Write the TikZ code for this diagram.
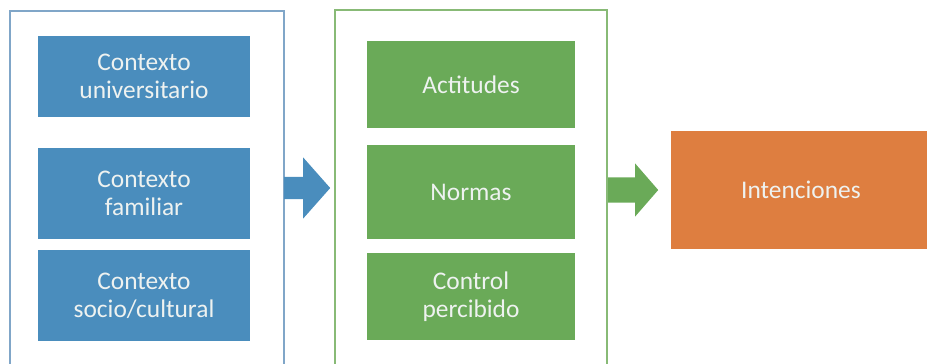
\documentclass[tikz,border=0pt]{standalone}
\usepackage{fontspec}
\setmainfont{Carlito}
\usetikzlibrary{shapes.arrows}
\definecolor{cblue}{RGB}{74,141,189}
\definecolor{cgreen}{RGB}{106,170,88}
\definecolor{corange}{RGB}{222,126,64}
\definecolor{bblue}{RGB}{128,166,200}
\definecolor{bgreen}{RGB}{136,186,118}
\definecolor{ctext}{RGB}{238,242,240}
\tikzset{
  inner/.style={rectangle, inner sep=0pt, text=ctext, align=center,
    font=\fontsize{25.5}{28}\selectfont},
  bluebox/.style={inner, fill=cblue, minimum width=212bp},
  greenbox/.style={inner, fill=cgreen, minimum width=208bp},
  outerbox/.style={rectangle, inner sep=0pt, line width=1.4bp, fill=white},
  blockarrow/.style={single arrow, inner xsep=0pt, anchor=west, font=\fontsize{1}{1}\selectfont}
}
\begin{document}
\begin{tikzpicture}[x=1bp,y=-1bp]
\useasboundingbox (0,0) rectangle (927,363);
\clip (0,0) rectangle (927,363);
% outer containers
\node[outerbox, draw=bblue, minimum width=274bp, minimum height=380bp] (left) at (147,201) {};
\node[outerbox, draw=bgreen, minimum width=272bp, minimum height=380bp] (mid) at (471,200) {};
% blue boxes
\node[bluebox, minimum height=81bp, text depth=-12bp] (uni) at (144,76.5) {Contexto\\universitario};
\node[bluebox, minimum height=91bp] (fam) at (144,193.5) {Contexto\\familiar};
\node[bluebox, minimum height=91bp] (soc) at (144,295.5) {Contexto\\socio/cultural};
% green boxes
\node[greenbox, minimum height=87bp] (act) at (471,84.5) {Actitudes};
\node[greenbox, minimum height=94bp] (nor) at (471,192) {Normas};
\node[greenbox, minimum height=87bp] (con) at (471,296.5) {Control\\percibido};
% orange box
\node[inner, fill=corange, minimum width=262bp, minimum height=118bp] (int) at (802,190) {\hspace*{-2bp}Intenciones};
% block arrows
\node[blockarrow, fill=cblue, inner ysep=11bp, minimum height=46bp, minimum width=61bp,
  single arrow head extend=19.5bp, single arrow tip angle=97] (a1) at (284,188) {};
\node[blockarrow, fill=cgreen, inner ysep=12.5bp, minimum height=50bp, minimum width=53bp,
  single arrow head extend=14bp, single arrow tip angle=98] (a2) at (608,190) {};
\end{tikzpicture}
\end{document}
